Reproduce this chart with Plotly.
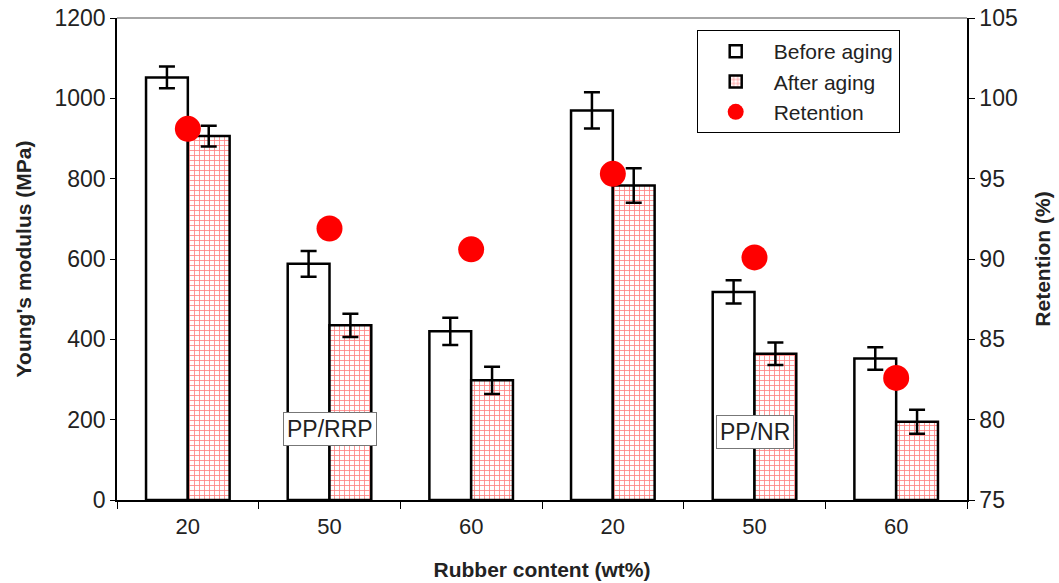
import plotly.graph_objects as go

# ---- data ----
categories = ["PP/RRP-20", "PP/RRP-50", "PP/RRP-60", "PP/NR-20", "PP/NR-50", "PP/NR-60"]
tick_labels = ["20", "50", "60", "20", "50", "60"]
before_aging = [1052, 588, 420, 970, 518, 352]
before_err = [27, 32, 34, 45, 29, 28]
after_aging = [906, 435, 298, 783, 364, 195]
after_err = [26, 29, 34, 43, 28, 30]
retention = [98.1, 91.9, 90.6, 95.3, 90.1, 82.6]
group_labels = ["PP/RRP", "PP/NR"]
group_label_pos = [(categories[1], 177), (categories[4], 169)]

FONT = "Liberation Sans, Arial, sans-serif"
TXT = "#222222"

fig = go.Figure()
fig.add_trace(go.Bar(
    x=categories, y=before_aging, name="Before aging",
    marker=dict(color="white", line=dict(color="black", width=2.5)),
    error_y=dict(type="data", array=before_err, color="black", thickness=2.5, width=8),
))
fig.add_trace(go.Bar(
    x=categories, y=after_aging, name="After aging",
    marker=dict(color="white", line=dict(color="black", width=2.5),
                pattern=dict(shape="+", fgcolor="#ff0000", bgcolor="white", size=5, solidity=0.3)),
    error_y=dict(type="data", array=after_err, color="black", thickness=2.5, width=8),
))
fig.add_trace(go.Scatter(
    x=categories, y=retention, name="Retention", mode="markers", yaxis="y2",
    marker=dict(color="#ff0000", size=26),
))

for text, (cx, cy) in zip(group_labels, group_label_pos):
    fig.add_annotation(x=cx, y=cy, text=text, showarrow=False,
                       font=dict(family=FONT, size=23, color=TXT),
                       bgcolor="white", bordercolor="#777777", borderwidth=1, borderpad=3)

fig.update_layout(
    width=1059, height=583,
    margin=dict(l=117, r=92, t=18, b=83),
    paper_bgcolor="white", plot_bgcolor="white",
    barmode="group", bargap=0.41, bargroupgap=0,
    font=dict(family=FONT, size=22, color=TXT),
    legend=dict(x=0.682, y=0.975, xanchor="left", yanchor="top",
                bgcolor="white", bordercolor="black", borderwidth=1, itemwidth=66,
                font=dict(family=FONT, size=21, color=TXT), tracegroupgap=0),
    xaxis=dict(
        type="category", tickmode="array", tickvals=categories, ticktext=tick_labels,
        tickson="boundaries", ticks="outside", ticklen=7, tickcolor="black",
        showline=True, linecolor="black", linewidth=1.5, mirror=False,
        showgrid=False, tickfont=dict(size=22, color=TXT), automargin=False,
        ticklabelstandoff=6,
        title=dict(text="<b>Rubber content (wt%)</b>", font=dict(size=21, color=TXT), standoff=24),
    ),
    yaxis=dict(
        range=[0, 1200], dtick=200, ticks="outside", ticklen=5, tickcolor="black",
        showline=True, linecolor="black", linewidth=1.5, showgrid=False, zeroline=False,
        tickfont=dict(size=23, color=TXT), automargin=False,
        title=dict(text="<b>Young's modulus (MPa)</b>", font=dict(size=21, color=TXT), standoff=17),
    ),
    yaxis2=dict(
        range=[75, 105], dtick=5, overlaying="y", side="right",
        ticks="outside", ticklen=6, tickcolor="black",
        showline=True, linecolor="black", linewidth=1.5, showgrid=False, zeroline=False,
        tickfont=dict(size=23, color=TXT), automargin=False,
        title=dict(text="<b>Retention (%)</b>", font=dict(size=21, color=TXT), standoff=19),
    ),
)
# top border line
fig.add_shape(type="line", xref="paper", yref="paper", x0=0, x1=1, y0=1, y1=1,
              line=dict(color="#888888", width=1.5))

fig.write_html("out.html", config={"displayModeBar": False},
               post_script="document.body.style.margin='0px';")
